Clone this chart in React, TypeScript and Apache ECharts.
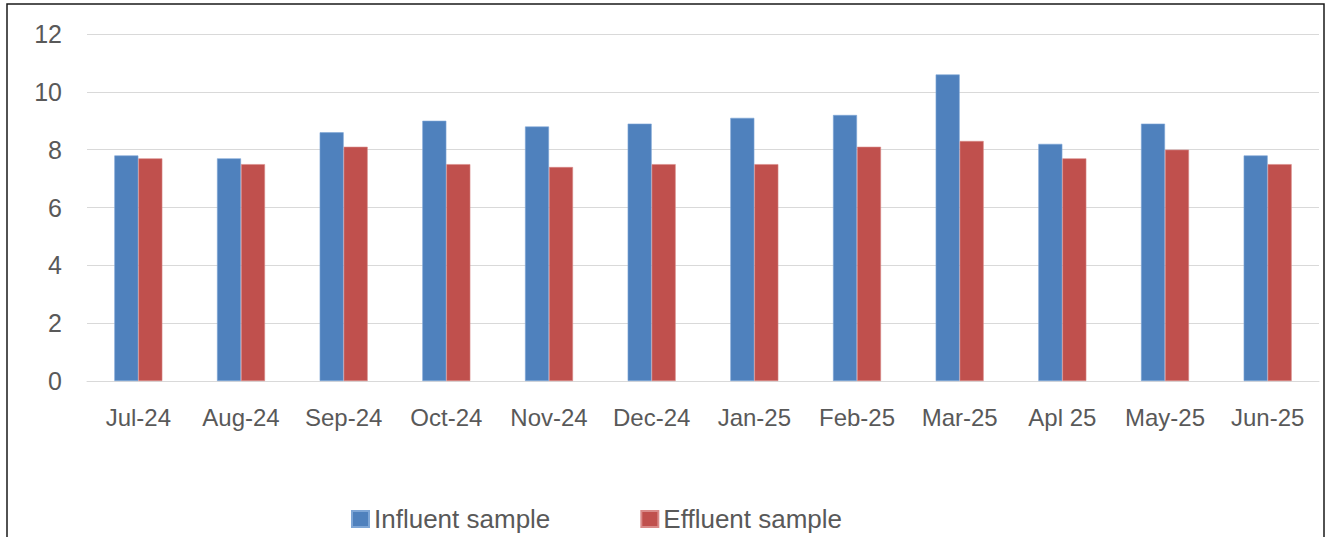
import React, { useEffect, useRef } from "react";
import * as echarts from "echarts";

const categories = ["Jul-24", "Aug-24", "Sep-24", "Oct-24", "Nov-24", "Dec-24", "Jan-25", "Feb-25", "Mar-25", "Apl 25", "May-25", "Jun-25"];
const influent = [7.8, 7.7, 8.6, 9.0, 8.8, 8.9, 9.1, 9.2, 10.6, 8.2, 8.9, 7.8];
const effluent = [7.7, 7.5, 8.1, 7.5, 7.4, 7.5, 7.5, 8.1, 8.3, 7.7, 8.0, 7.5];
const seriesNames = ["Influent sample", "Effluent sample"];

const FONT = "'Liberation Sans', Arial, sans-serif";

export default function App() {
  const ref = useRef<HTMLDivElement>(null);
  useEffect(() => {
    if (!ref.current) return;
    const chart = echarts.init(ref.current, null, { renderer: "svg" });
    chart.setOption({
      animation: false,
      backgroundColor: "#ffffff",
      graphic: [
        {
          type: "rect",
          shape: { x: 7, y: 4, width: 1317, height: 560 },
          style: { fill: "none", stroke: "#1a1a1a", lineWidth: 1.5 },
          silent: true,
          z: -1,
        },
      ],
      grid: { left: 87, right: 6, top: 34, bottom: 156, containLabel: false },
      legend: {
        left: 346,
        top: 501,
        itemWidth: 17,
        itemHeight: 16,
        itemGap: 90,
        icon: "rect",
        textStyle: { fontFamily: FONT, fontSize: 26, color: "#595959" },
        data: seriesNames,
      },
      xAxis: {
        type: "category",
        data: categories,
        axisLine: { show: true, lineStyle: { color: "#d9d9d9", width: 1 } },
        axisTick: { show: false },
        axisLabel: { fontFamily: FONT, fontSize: 24, color: "#595959", margin: 24, interval: 0, hideOverlap: false },
      },
      yAxis: {
        type: "value",
        min: 0,
        max: 12,
        interval: 2,
        axisLine: { show: false },
        axisTick: { show: false },
        axisLabel: { fontFamily: FONT, fontSize: 25, color: "#595959", margin: 25 },
        splitLine: { lineStyle: { color: "#d9d9d9", width: 1 } },
      },
      series: [
        {
          name: seriesNames[0],
          type: "bar",
          data: influent,
          barWidth: 24,
          barGap: "0%",
          itemStyle: { color: "#4F81BD", borderColor: "#7ea6d6", borderWidth: 0.6 },
        },
        {
          name: seriesNames[1],
          type: "bar",
          data: effluent,
          barWidth: 24,
          barGap: "0%",
          itemStyle: { color: "#C0504D", borderColor: "#d98a88", borderWidth: 0.6 },
        },
      ],
    });
    return () => chart.dispose();
  }, []);
  return (
    <div style={{ position: "fixed", left: 0, top: 0, width: 1325, height: 537 }}>
      <div ref={ref} style={{ width: 1325, height: 537 }} />
    </div>
  );
}
